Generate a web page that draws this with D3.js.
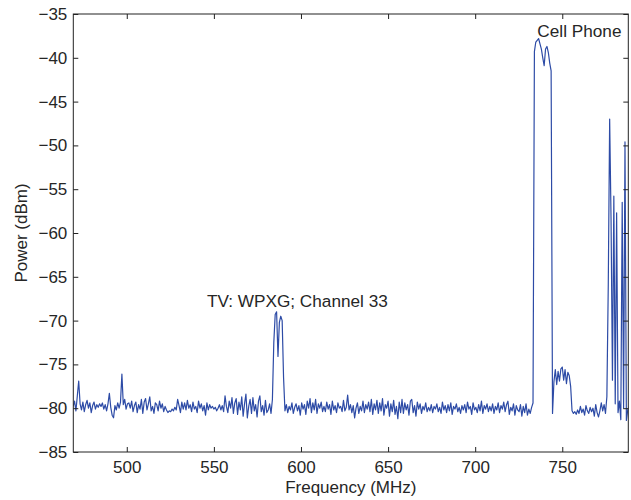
<!DOCTYPE html>
<html>
<head>
<meta charset="utf-8">
<script src="https://cdn.jsdelivr.net/npm/d3@7"></script>
<style>
  body { margin: 0; background: #fff; }
  svg { font-family: "Liberation Sans", Arial, sans-serif; }
</style>
</head>
<body>
<div id="chart"></div>
<script>
// sweep settings: first bin and bin spacing (MHz)
const freqStart = 469.2;
const freqStep = 0.8;

// measured power per bin (dBm), 20 bins per row
const power = [
  -79.8, -79.2, -80.3, -78.6, -76.9, -79.5, -80.2, -79.3, -80.4, -79.6, -79.1, -80.0, -79.4, -80.5, -79.7, -79.3, -80.1, -79.6, -79.9, -79.5,
  -79.8, -79.4, -80.1, -79.6, -80.3, -79.5, -78.3, -79.9, -80.8, -81.1, -79.7, -80.2, -79.4, -80.0, -79.3, -76.1, -79.6, -79.0, -80.1, -79.5,
  -79.4, -80.0, -79.2, -80.4, -79.7, -79.3, -80.5, -79.6, -80.1, -79.0, -80.6, -79.3, -78.9, -80.2, -79.5, -78.7, -80.3, -79.8, -80.6, -79.4,
  -79.6, -80.3, -79.2, -80.0, -79.5, -80.4, -79.8, -80.2, -80.5, -80.3, -80.4, -80.1, -80.3, -79.9, -80.2, -79.0, -79.7, -80.5, -79.3, -80.1,
  -79.4, -80.2, -79.1, -80.0, -79.6, -80.4, -79.3, -80.1, -79.8, -80.5, -79.2, -80.0, -79.5, -80.3, -79.7, -80.8, -79.4, -80.2, -79.6, -80.0,
  -79.8, -80.1, -79.9, -80.3, -80.0, -79.6, -80.2, -79.7, -80.4, -78.6, -79.8, -80.5, -79.2, -80.0, -78.8, -80.6, -79.4, -78.9, -80.7, -79.3,
  -80.2, -78.7, -80.9, -79.5, -78.4, -81.1, -79.8, -79.0, -80.6, -78.8, -80.3, -79.6, -81.0, -79.2, -78.6, -80.4, -79.7, -80.8, -79.1, -80.5,
  -80.2, -79.5, -80.6, -79.0, -72.5, -69.3, -69.0, -74.1, -70.2, -69.5, -70.0, -76.5, -80.3, -79.6, -80.5, -79.8, -80.2, -79.4, -80.6, -79.9,
  -79.5, -80.3, -79.7, -80.8, -79.4, -80.1, -79.6, -80.7, -79.2, -80.0, -78.9, -80.5, -79.4, -80.2, -79.0, -80.6, -79.5, -80.0, -79.3, -80.4,
  -79.8, -80.4, -79.3, -80.1, -79.6, -80.7, -79.2, -80.2, -79.7, -80.5, -79.4, -80.0, -79.8, -80.4, -79.1, -80.3, -79.9, -78.5, -80.2, -79.6,
  -80.5, -79.7, -81.1, -80.0, -79.4, -80.6, -79.8, -80.3, -79.2, -80.5, -79.6, -80.1, -79.3, -80.4, -79.0, -80.7, -79.5, -80.2, -79.1, -80.6,
  -79.4, -80.3, -78.9, -80.8, -79.6, -80.0, -79.2, -80.9, -79.5, -80.4, -79.1, -80.7, -79.8, -81.2, -79.3, -80.5, -79.0, -80.6, -79.4, -80.2,
  -79.6, -80.8, -79.2, -79.0, -80.5, -79.7, -80.9, -79.3, -80.1, -79.5, -80.6, -79.8, -80.2, -79.4, -80.4, -79.9, -80.3, -79.6, -80.5, -79.8,
  -80.1, -79.5, -80.4, -79.9, -80.6, -79.3, -80.2, -79.7, -80.5, -79.6, -80.3, -79.4, -80.7, -79.8, -80.1, -79.5, -80.4, -79.9, -80.6, -79.7,
  -80.2, -79.6, -80.5, -79.3, -80.1, -79.8, -80.7, -79.4, -80.2, -79.9, -80.5, -79.6, -80.3, -79.2, -80.6, -79.7, -80.1, -79.5, -80.4, -79.8,
  -80.3, -79.5, -80.6, -79.8, -80.2, -79.4, -80.5, -79.7, -80.1, -79.3, -80.4, -79.6, -79.2, -80.7, -79.9, -80.3, -79.5, -80.8, -79.7, -80.2,
  -80.4, -79.6, -80.9, -79.8, -80.5, -79.5, -80.8, -80.1, -80.6, -79.9, -79.4, -39.3, -38.2, -38.0, -37.8, -38.4, -39.0, -40.0, -40.9, -39.0,
  -38.7, -39.4, -40.6, -41.5, -80.6, -77.0, -75.6, -77.3, -75.8, -76.9, -75.5, -75.3, -76.8, -75.6, -77.2, -75.9, -76.3, -77.5, -80.3, -80.6,
  -80.4, -80.7, -80.2, -80.6, -79.8, -80.5, -80.1, -80.8, -79.7, -80.3, -80.6, -79.9, -80.4, -80.0, -80.9, -79.6, -80.5, -81.0, -80.3, -79.4,
  -80.3, -79.6, -80.6, -78.7, -66.0, -47.0, -58.5, -76.8, -55.8, -79.5, -57.7, -80.5, -79.2, -81.3, -56.5, -80.0, -49.6, -81.4, -80.2, -79.8
];

const xTicks = [500, 550, 600, 650, 700, 750];
const yTicks = [-85, -80, -75, -70, -65, -60, -55, -50, -45, -40, -35];
const notes = [
  { text: "TV: WPXG; Channel 33", f: 546.0, p: -68.5 },
  { text: "Cell Phone", f: 735.7, p: -37.6 }
];

const width = 631, height = 500;
const margin = { top: 14, right: 2.7, bottom: 48, left: 73.3 };

const svg = d3.select("#chart").append("svg")
  .attr("width", width)
  .attr("height", height);

const x = d3.scaleLinear()
  .domain([469.3, 787.9])
  .range([margin.left, width - margin.right]);

const y = d3.scaleLinear()
  .domain([-85, -35])
  .range([height - margin.bottom, margin.top]);

const spectrum = power.map((p, i) => ({ f: freqStart + i * freqStep, p: p }));

svg.append("clipPath").attr("id", "plot-clip")
  .append("rect")
  .attr("x", margin.left)
  .attr("y", margin.top)
  .attr("width", x.range()[1] - margin.left)
  .attr("height", y.range()[0] - margin.top);

svg.append("path")
  .datum(spectrum)
  .attr("clip-path", "url(#plot-clip)")
  .attr("fill", "none")
  .attr("stroke", "#2d4ba6")
  .attr("stroke-width", 1.2)
  .attr("stroke-linejoin", "round")
  .attr("d", d3.line().x(d => x(d.f)).y(d => y(d.p)));

const tickColor = "#222";
const fontSize = "17px";

// axes with inward ticks, mirrored on top and right like matlab
const bottomAxis = svg.append("g")
  .attr("transform", `translate(0,${y.range()[0]})`)
  .call(d3.axisBottom(x).tickValues(xTicks).tickSizeInner(-5).tickSizeOuter(0).tickPadding(9.2));
const topAxis = svg.append("g")
  .attr("transform", `translate(0,${margin.top})`)
  .call(d3.axisTop(x).tickValues(xTicks).tickSizeInner(-5).tickSizeOuter(0).tickFormat(""));
const leftAxis = svg.append("g")
  .attr("transform", `translate(${margin.left},0)`)
  .call(d3.axisLeft(y).tickValues(yTicks).tickSizeInner(-5).tickSizeOuter(0).tickPadding(6));
const rightAxis = svg.append("g")
  .attr("transform", `translate(${x.range()[1]},0)`)
  .call(d3.axisRight(y).tickValues(yTicks).tickSizeInner(-5).tickSizeOuter(0).tickFormat(""));

[bottomAxis, topAxis, leftAxis, rightAxis].forEach(g => {
  g.select(".domain").remove();
  g.selectAll(".tick line").attr("stroke", tickColor);
  g.selectAll(".tick text")
    .attr("fill", "#262626")
    .style("font-size", fontSize)
    .style("font-family", "'Liberation Sans', Arial, sans-serif");
});

svg.append("rect")
  .attr("x", margin.left)
  .attr("y", margin.top)
  .attr("width", x.range()[1] - margin.left)
  .attr("height", y.range()[0] - margin.top)
  .attr("fill", "none")
  .attr("stroke", tickColor)
  .attr("stroke-width", 1);

svg.append("text")
  .attr("x", (margin.left + x.range()[1]) / 2)
  .attr("y", 493)
  .attr("text-anchor", "middle")
  .attr("fill", "#262626")
  .style("font-size", fontSize)
  .text("Frequency (MHz)");

svg.append("text")
  .attr("transform", `translate(27,${(margin.top + y.range()[0]) / 2}) rotate(-90)`)
  .attr("text-anchor", "middle")
  .attr("fill", "#262626")
  .style("font-size", fontSize)
  .text("Power (dBm)");

svg.selectAll(".note")
  .data(notes)
  .enter().append("text")
  .attr("class", "note")
  .attr("x", d => x(d.f))
  .attr("y", d => y(d.p))
  .attr("fill", "#262626")
  .style("font-size", "17.2px")
  .text(d => d.text);
</script>
</body>
</html>
